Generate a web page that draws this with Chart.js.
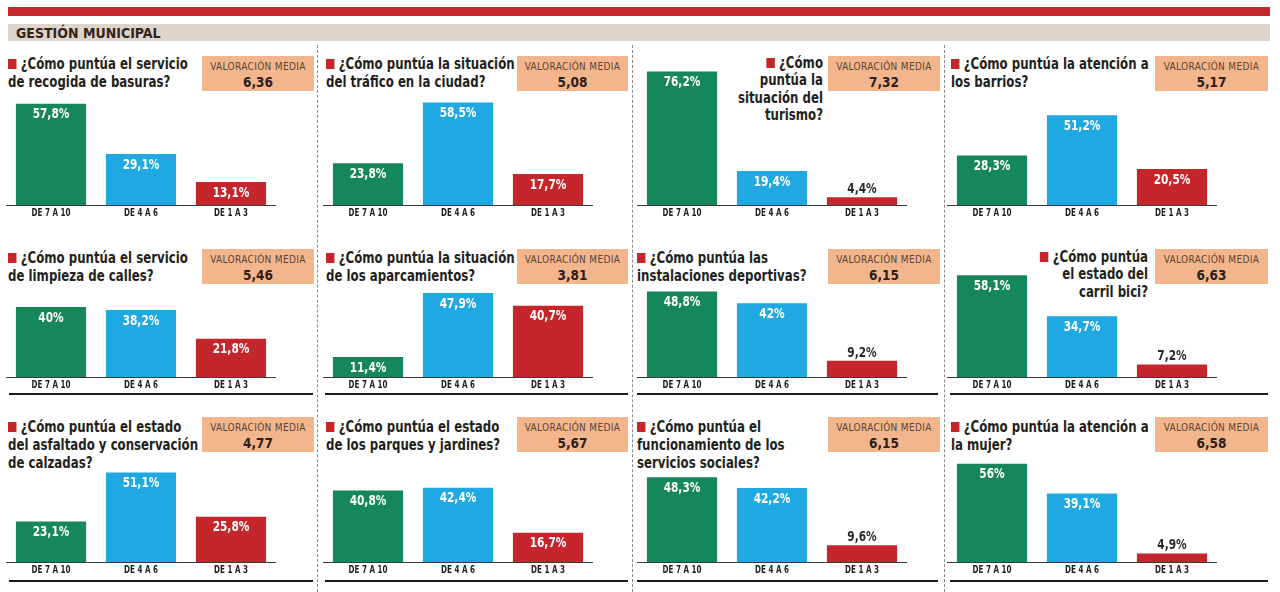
<!DOCTYPE html>
<html><head><meta charset="utf-8">
<script src="https://cdn.jsdelivr.net/npm/chart.js@4.4.1/dist/chart.umd.min.js"></script>
<style>
html,body{margin:0;padding:0;background:#fff;}
#wrap{position:relative;width:1280px;height:592px;overflow:hidden;background:#fff;}
.abs{position:absolute;}
.title{position:absolute;font-family:"DejaVu Sans Condensed","Liberation Sans Narrow",Roboto,sans-serif;font-weight:bold;font-size:15.5px;line-height:18px;color:#231f1c;white-space:pre;transform:scaleX(0.845);transform-origin:0 0;}
.title.right{transform-origin:100% 0;}
.sq{display:inline-block;width:10px;height:10px;background:#c4262c;margin-right:5px;vertical-align:0px;}
.box{position:absolute;background:#f3b58c;text-align:center;font-family:"DejaVu Sans Condensed","Liberation Sans Narrow",Roboto,sans-serif;color:#5a4434;}
.box .l1{position:absolute;left:0;right:0;top:5px;font-size:10px;letter-spacing:0.35px;}
.box .l2{position:absolute;left:0;right:0;top:18px;font-size:13.5px;font-weight:bold;color:#2e2018;}
.vsep{position:absolute;width:0;border-left:1px dashed #8a8a8a;}
.hline{position:absolute;height:2px;background:#1b1b1b;}
canvas{position:absolute;}
</style></head>
<body><div id="wrap"></div>
<script>
// ---------- DATA ----------
const sectionTitle = 'GESTIÓN MUNICIPAL';
const boxLabel = 'VALORACIÓN MEDIA';
const categories = ['DE 7 A 10', 'DE 4 A 6', 'DE 1 A 3'];
const questions = [
  '¿Cómo puntúa el servicio\nde recogida de basuras?',
  '¿Cómo puntúa la situación\ndel tráfico en la ciudad?',
  '¿Cómo\npuntúa la\nsituación del\nturismo?',
  '¿Cómo puntúa la atención a\nlos barrios?',
  '¿Cómo puntúa el servicio\nde limpieza de calles?',
  '¿Cómo puntúa la situación\nde los aparcamientos?',
  '¿Cómo puntúa las\ninstalaciones deportivas?',
  '¿Cómo puntúa\nel estado del\ncarril bici?',
  '¿Cómo puntúa el estado\ndel asfaltado y conservación\nde calzadas?',
  '¿Cómo puntúa el estado\nde los parques y jardines?',
  '¿Cómo puntúa el\nfuncionamiento de los\nservicios sociales?',
  '¿Cómo puntúa la atención a\nla mujer?'
];
const mediaValues = ['6,36','5,08','7,32','5,17','5,46','3,81','6,15','6,63','4,77','5,67','6,15','6,58'];
const pct7a10 = [57.8, 23.8, 76.2, 28.3, 40.0, 11.4, 48.8, 58.1, 23.1, 40.8, 48.3, 56.0];
const pct4a6  = [29.1, 58.5, 19.4, 51.2, 38.2, 47.9, 42.0, 34.7, 51.1, 42.4, 42.2, 39.1];
const pct1a3  = [13.1, 17.7,  4.4, 20.5, 21.8, 40.7,  9.2,  7.2, 25.8, 16.7,  9.6,  4.9];

// ---------- LAYOUT ----------
const barColors = ['#15875a', '#1fa8e1', '#c4262c'];
const chartLeft = [6, 323, 636.5, 947];
const rowBase = [205, 377, 562];
const titleLine1 = [64, 258, 427];
const titleLeft = [8, 326, 637, 951];
const rightTitles = {2: 823, 7: 1148};
const boxX = [[202, 314], [517, 628], [828, 940], [1155, 1268]];
const boxTop = [56, 249, 417];
const sepX = [317, 632, 944];
const hlineY = [null, 393, 580];
const hlineX = [[9, 313], [325, 628], [637, 938], [950, 1268]];
const CW = 270, CH = 160, AXIS_H = 18, YMAX = 81;
const fontNarrow = '"DejaVu Sans Condensed","Liberation Sans Narrow",Roboto,sans-serif';

const wrap = document.getElementById('wrap');
function el(tag, cls, css, html) {
  const d = document.createElement(tag);
  if (cls) d.className = cls;
  Object.assign(d.style, css || {});
  if (html !== undefined) d.innerHTML = html;
  wrap.appendChild(d);
  return d;
}
// header
el('div', 'abs', {left:'8px', top:'7px', width:'1262px', height:'9px', background:'#c4272d'});
el('div', 'abs', {left:'8px', top:'24px', width:'1262px', height:'17px', background:'#ddd4ca'});
el('div', 'abs', {left:'16px', top:'24px', height:'17px', lineHeight:'18px', fontFamily:fontNarrow,
  fontWeight:'bold', fontSize:'14px', color:'#33241a'}, sectionTitle);
// separators
sepX.forEach(x => el('div', 'vsep', {left:x+'px', top:'45px', height:'547px'}));

const fmt = v => (Number.isInteger(v) ? String(v) : v.toFixed(1).replace('.', ',')) + '%';
function narrowText(ctx, text, x, y, sx) {
  ctx.save(); ctx.translate(x, y); ctx.scale(sx, 1); ctx.fillText(text, 0, 0); ctx.restore();
}

const labelPlugin = {
  id: 'barLabels',
  afterDatasetsDraw(chart) {
    const ctx = chart.ctx;
    const meta = chart.getDatasetMeta(0);
    const vals = chart.data.datasets[0].data;
    const base = chart.chartArea.bottom;
    ctx.save();
    ctx.textAlign = 'center';
    ctx.textBaseline = 'middle';
    meta.data.forEach((bar, i) => {
      const v = vals[i];
      ctx.font = 'bold 14px ' + fontNarrow;
      if (v >= 10) { ctx.fillStyle = '#ffffff'; narrowText(ctx, fmt(v), bar.x, bar.y + 11, 0.84); }
      else { ctx.fillStyle = '#2a2a2a'; narrowText(ctx, fmt(v), bar.x, bar.y - 8, 0.84); }
      // category label under the axis
      ctx.font = 'bold 10.5px ' + fontNarrow;
      ctx.fillStyle = '#1e1e1e';
      narrowText(ctx, chart.data.labels[i], bar.x, base + 8.5, 0.76);
    });
    ctx.restore();
  }
};

for (let p = 0; p < 12; p++) {
  const r = Math.floor(p / 4), c = p % 4;
  const lines = questions[p].split('\n');
  const html = '<span class="sq"></span>' + lines.join('\n');
  if (rightTitles[p] !== undefined) {
    el('div', 'title right', {left:(rightTitles[p] - 200)+'px', width:'200px', textAlign:'right',
      top:(titleLine1[r] - 9)+'px', lineHeight:'17.3px'}, html);
  } else {
    el('div', 'title', {left:titleLeft[c]+'px', top:(titleLine1[r] - 9)+'px'}, html);
  }
  el('div', 'box', {left:boxX[c][0]+'px', top:boxTop[r]+'px', width:(boxX[c][1]-boxX[c][0])+'px', height:'35px'},
    '<div class="l1">' + boxLabel + '</div><div class="l2">' + mediaValues[p] + '</div>');
  if (hlineY[r] !== null) el('div', 'hline', {left:hlineX[c][0]+'px', top:hlineY[r]+'px', width:(hlineX[c][1]-hlineX[c][0])+'px'});
  const cv = document.createElement('canvas');
  cv.width = CW; cv.height = CH;
  cv.style.left = chartLeft[c] + 'px';
  cv.style.top = (rowBase[r] - (CH - AXIS_H)) + 'px';
  cv.style.width = CW + 'px'; cv.style.height = CH + 'px';
  wrap.appendChild(cv);
  new Chart(cv, {
    type: 'bar',
    data: { labels: categories, datasets: [{ data: [pct7a10[p], pct4a6[p], pct1a3[p]], backgroundColor: barColors,
      categoryPercentage: 1, barPercentage: 0.78 }] },
    options: {
      responsive: false, animation: false, devicePixelRatio: 1,
      layout: { padding: 0 },
      plugins: { legend: { display: false }, tooltip: { enabled: false } },
      scales: {
        x: { grid: { display: false, drawTicks: false }, border: { display: true, color: '#3a3a3a', width: 1 },
             ticks: { display: false },
             afterFit: s => { s.height = AXIS_H; } },
        y: { display: false, min: 0, max: YMAX }
      }
    },
    plugins: [labelPlugin]
  });
}
</script></body></html>
